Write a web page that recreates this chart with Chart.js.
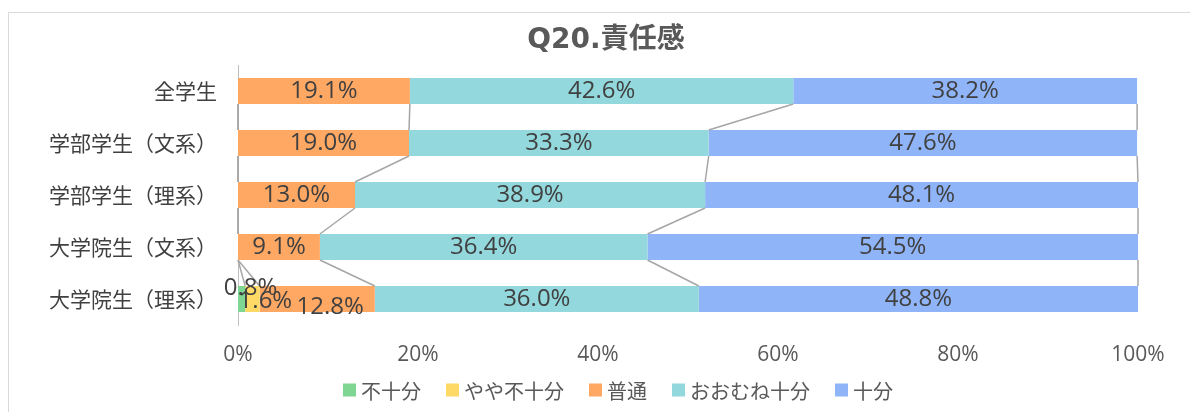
<!DOCTYPE html>
<html>
<head>
<meta charset="utf-8">
<script src="https://cdn.jsdelivr.net/npm/chart.js@4.4.1/dist/chart.umd.min.js"></script>
<style>
  body { margin: 0; background: #fff; }
  #wrap { position: relative; width: 1190px; height: 412px; }
  #frame { position: absolute; left: 8px; top: 12px; width: 1190px; height: 410px; border: 1px solid #d9d9d9; box-sizing: border-box; }
  canvas { position: absolute; left: 0; top: 0; }
</style>
</head>
<body>
<div id="wrap">
  <div id="frame"></div>
  <canvas id="barChart" width="1190" height="412"></canvas>
</div>
<script>
var chartTitle = 'Q20.責任感';
var categories = ['全学生', '学部学生（文系）', '学部学生（理系）', '大学院生（文系）', '大学院生（理系）'];
var seriesNames = ['不十分', 'やや不十分', '普通', 'おおむね十分', '十分'];
var fuujuubun = [0, 0, 0, 0, 0.8];
var yayaFujuubun = [0, 0, 0, 0, 1.6];
var futsuu = [19.1, 19.0, 13.0, 9.1, 12.8];
var oomune = [42.6, 33.3, 38.9, 36.4, 36.0];
var juubun = [38.2, 47.6, 48.1, 54.5, 48.8];
var xTicks = ['0%', '20%', '40%', '60%', '80%', '100%'];

var colors = ['#7fd592', '#ffd966', '#ffa864', '#92d8dd', '#8fb5f8'];
var jpFont = '"Noto Sans CJK JP", "Noto Sans", sans-serif';
var numFont = '"Open Sans", "Noto Sans CJK JP", sans-serif';

// Excel-style series lines between stacked bars
var seriesLines = {
    id: 'seriesLines',
    afterDatasetsDraw: function(chart) {
        var ctx = chart.ctx;
        ctx.save();
        ctx.strokeStyle = '#a6a6a6';
        ctx.lineWidth = 1.5;
        chart.data.datasets.forEach(function(ds, d) {
            var els = chart.getDatasetMeta(d).data;
            for (var i = 0; i < els.length - 1; i++) {
                var a = els[i], b = els[i + 1];
                ctx.beginPath();
                ctx.moveTo(a.x, a.y + a.height / 2);
                ctx.lineTo(b.x, b.y - b.height / 2);
                ctx.stroke();
            }
        });
        ctx.restore();
    }
};

// value labels inside segments (small ones nudged like the original)
var valueLabels = {
    id: 'valueLabels',
    afterDatasetsDraw: function(chart) {
        var ctx = chart.ctx;
        ctx.save();
        ctx.font = '24px ' + numFont;
        ctx.fillStyle = '#404040';
        ctx.textAlign = 'center';
        ctx.textBaseline = 'middle';
        var nudge = { '0-4': [9, -11], '1-4': [13, 2], '2-4': [13, 8] };
        chart.data.datasets.forEach(function(ds, d) {
            chart.getDatasetMeta(d).data.forEach(function(el, i) {
                var v = ds.data[i];
                if (!v) return;
                var off = nudge[d + '-' + i] || [0, 0];
                ctx.fillText(v.toFixed(1) + '%', (el.x + el.base) / 2 + off[0], el.y + off[1]);
            });
        });
        ctx.restore();
    }
};

// title + legend row, placed like the Excel frame
var frameText = {
    id: 'frameText',
    afterDraw: function(chart) {
        var ctx = chart.ctx;
        ctx.save();
        ctx.textBaseline = 'middle';
        ctx.textAlign = 'center';
        ctx.fillStyle = '#595959';
        ctx.font = 'bold 28px "DejaVu Sans", "Noto Sans CJK JP", sans-serif';
        ctx.fillText(chartTitle, 606, 41);

        ctx.textAlign = 'left';
        ctx.font = '20px ' + jpFont;
        var box = 13, gap = 5, spacing = 25, y = 390;
        var total = 0;
        chart.data.datasets.forEach(function(ds, k) {
            total += box + gap + ctx.measureText(ds.label).width;
            if (k > 0) total += spacing;
        });
        var x = 618 - total / 2;
        chart.data.datasets.forEach(function(ds) {
            ctx.fillStyle = ds.backgroundColor;
            ctx.fillRect(x, y - box / 2, box, box);
            x += box + gap;
            ctx.fillStyle = '#595959';
            ctx.fillText(ds.label, x, y + 1);
            x += ctx.measureText(ds.label).width + spacing;
        });
        ctx.restore();
    }
};

var seriesData = [fuujuubun, yayaFujuubun, futsuu, oomune, juubun];

new Chart(document.getElementById('barChart'), {
    type: 'bar',
    data: {
        labels: categories,
        datasets: seriesNames.map(function(name, k) {
            return {
                label: name,
                data: seriesData[k],
                backgroundColor: colors[k],
                categoryPercentage: 0.5,
                barPercentage: 1.0
            };
        })
    },
    plugins: [seriesLines, valueLabels, frameText],
    options: {
        indexAxis: 'y',
        responsive: false,
        animation: false,
        layout: { padding: { left: 0, right: 52, top: 65, bottom: 45 } },
        plugins: {
            title: { display: false },
            legend: { display: false },
            tooltip: { enabled: false }
        },
        scales: {
            x: {
                stacked: true,
                min: 0,
                max: 100,
                grid: { display: false, drawTicks: false },
                border: { display: false },
                afterFit: function(scale) { scale.height = 42; },
                ticks: {
                    stepSize: 20,
                    padding: 17,
                    color: '#595959',
                    font: { family: numFont, size: 21 },
                    callback: function(v, idx) { return xTicks[idx]; }
                }
            },
            y: {
                stacked: true,
                grid: { display: false, drawTicks: false },
                border: { display: true, color: '#bfbfbf', width: 1 },
                afterFit: function(scale) { scale.width = 238; },
                ticks: {
                    padding: 21,
                    color: '#404040',
                    font: { family: jpFont, size: 21 }
                }
            }
        }
    }
});
</script>
</body>
</html>
